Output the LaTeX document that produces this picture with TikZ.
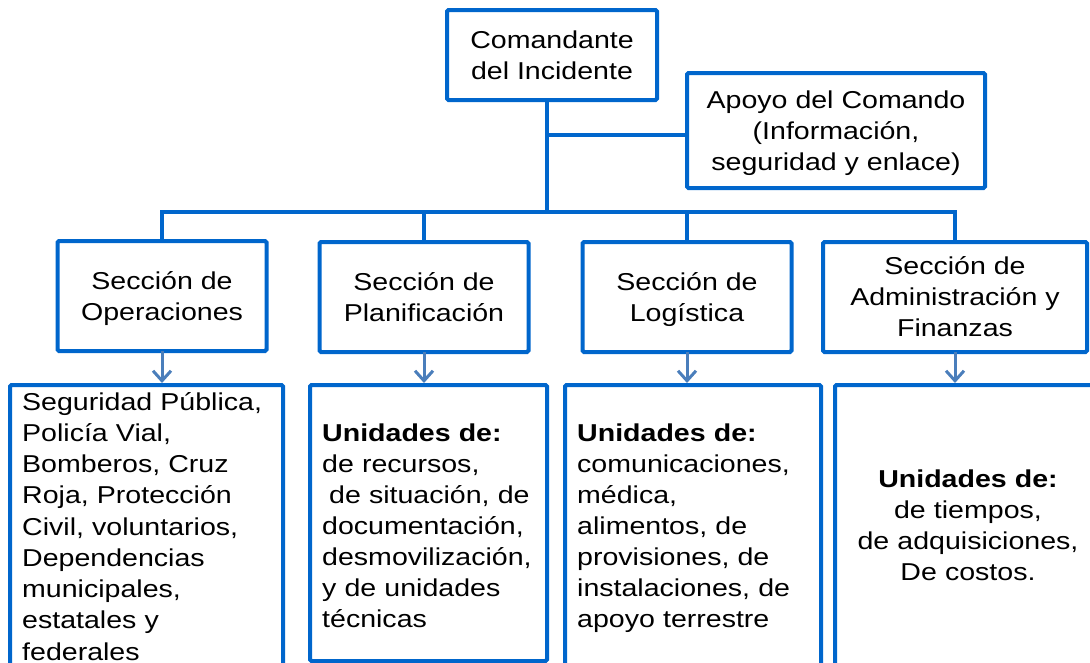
\documentclass[tikz,border=0pt]{standalone}
\usepackage{fontspec}
\setmainfont[FakeStretch=1.17]{Liberation Sans}
\usetikzlibrary{arrows.meta}
\definecolor{boxblue}{RGB}{0,102,204}
\definecolor{arrowblue}{RGB}{74,126,187}
\newcommand{\bodyfont}{\fontsize{24.4}{31}\selectfont}
\newcommand{\opsfont}{\fontsize{24.4}{31.25}\selectfont}
\begin{document}
\begin{tikzpicture}[x=1pt,y=-1pt,
  box/.style={draw=boxblue, line width=4pt, rounded corners=1.5pt, inner sep=0pt, outer sep=0pt, align=center, font=\bodyfont, text depth=0pt},
  conn/.style={draw=boxblue, line width=4pt},
  arr/.style={draw=arrowblue, line width=3pt, shorten >=2pt, -{Straight Barb[length=10pt,width=18pt,line width=3pt]}},
  body/.style={inner sep=0pt, anchor=base west, align=left, font=\bodyfont, text width=300pt},
  bodyc/.style={inner sep=0pt, anchor=base, align=center, font=\bodyfont, text width=260pt}]
\useasboundingbox (0,0) rectangle (1090,662);

% top boxes
\node[box, minimum width=210pt, minimum height=90pt] (cmd) at (552,55) {Comandante\\del Incidente};
\node[box, minimum width=298pt, minimum height=115pt] (apoyo) at (836,130.5) {Apoyo del Comando\\(Información,\\seguridad y enlace)};

% sections
\node[box, minimum width=209pt, minimum height=110pt] (ops) at (162,296) {Sección de\\Operaciones};
\node[box, minimum width=209pt, minimum height=110pt] (plan) at (424,297) {Sección de\\Planificación};
\node[box, minimum width=209pt, minimum height=110pt] (log) at (687,297) {Sección de\\Logística};
\node[box, minimum width=264pt, minimum height=110pt] (adm) at (955,297) {Sección de\\Administración y\\Finanzas};

% bottom boxes
\node[box, minimum width=273pt, minimum height=281pt] (b1) at (146.5,525.5) {};
\node[box, minimum width=237pt, minimum height=276pt] (b2) at (428.5,523) {};
\node[box, minimum width=256pt, minimum height=281pt] (b3) at (693,525.5) {};
\node[box, minimum width=267pt, minimum height=281pt] (b4) at (968.5,525.5) {};

% connectors
\coordinate (j) at (547,212);
\coordinate (br) at (547,135);
\draw[conn] (cmd.south -| j) -- (j);
\draw[conn] (br) -- (br -| apoyo.west);
\draw[conn] (ops.north) -- (ops.north |- j) -- (adm.north |- j) -- (adm.north);
\draw[conn] (plan.north) -- (plan.north |- j);
\draw[conn] (log.north) -- (log.north |- j);

% arrows
\draw[arr] (ops.south) -- (ops.south |- b1.north);
\draw[arr] (plan.south) -- (plan.south |- b2.north);
\draw[arr] (log.south) -- (log.south |- b3.north);
\draw[arr] (adm.south) -- (adm.south |- b4.north);

% texts
\node[body, font=\opsfont] (t1) at (22,410) {Seguridad Pública,\\Policía Vial,\\Bomberos, Cruz\\Roja, Protección\\Civil, voluntarios,\\Dependencias\\municipales,\\estatales y\\federales};
\node[body] (t2) at (322,441) {\textbf{Unidades de:}\\de recursos,\\\hspace*{7pt}de situación, de\\documentación,\\desmovilización,\\y de unidades\\técnicas};
\node[body] (t3) at (577,441) {\textbf{Unidades de:}\\comunicaciones,\\médica,\\alimentos, de\\provisiones, de\\instalaciones, de\\apoyo terrestre};
\node[bodyc] (t4) at (968,487.5) {\textbf{Unidades de:}\\de tiempos,\\de adquisiciones,\\De costos.};
\end{tikzpicture}
\end{document}
